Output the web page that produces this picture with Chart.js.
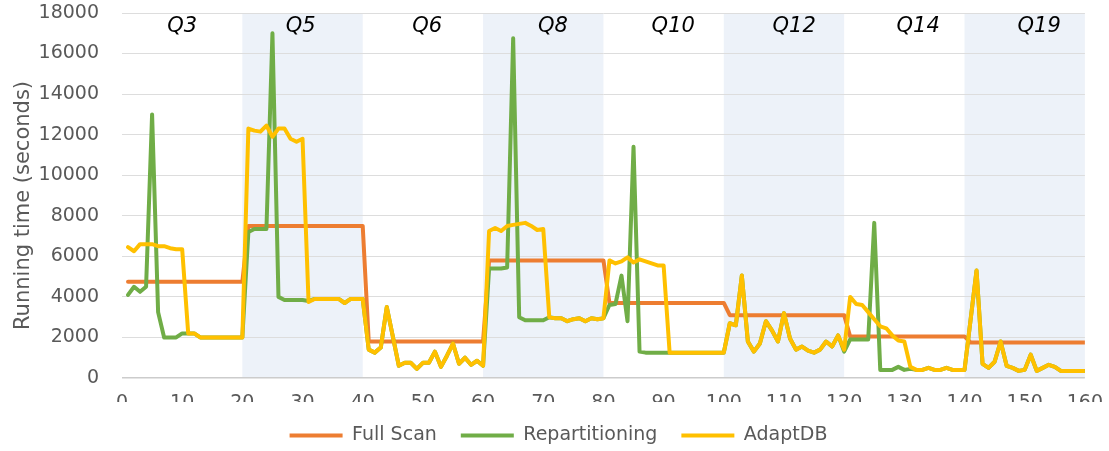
<!DOCTYPE html>
<html>
<head>
<meta charset="utf-8">
<title>Running time per query</title>
<script src="https://cdn.jsdelivr.net/npm/chart.js@4/dist/chart.umd.min.js"></script>
<style>
  html, body { margin: 0; padding: 0; background: #ffffff; }
  #wrap { width: 1109px; height: 451px; position: relative; }
</style>
</head>
<body>
<div id="wrap"><canvas id="chart"></canvas></div>
<script>
// Query groups: 20 consecutive runs each
const queries = ['Q3', 'Q5', 'Q6', 'Q8', 'Q10', 'Q12', 'Q14', 'Q19'];
const runsPerQuery = 20;
const runs = Array.from({ length: queries.length * runsPerQuery }, (_, i) => i + 1);

// Running time (seconds) per run
const fullScan = [
  4750, 4750, 4750, 4750, 4750, 4750, 4750, 4750, 4750, 4750, 4750, 4750, 4750, 4750, 4750, 4750, 4750, 4750, 4750, 4750,
  7500, 7500, 7500, 7500, 7500, 7500, 7500, 7500, 7500, 7500, 7500, 7500, 7500, 7500, 7500, 7500, 7500, 7500, 7500, 7500,
  1800, 1800, 1800, 1800, 1800, 1800, 1800, 1800, 1800, 1800, 1800, 1800, 1800, 1800, 1800, 1800, 1800, 1800, 1800, 1800,
  5800, 5800, 5800, 5800, 5800, 5800, 5800, 5800, 5800, 5800, 5800, 5800, 5800, 5800, 5800, 5800, 5800, 5800, 5800, 5800,
  3700, 3700, 3700, 3700, 3700, 3700, 3700, 3700, 3700, 3700, 3700, 3700, 3700, 3700, 3700, 3700, 3700, 3700, 3700, 3700,
  3100, 3100, 3100, 3100, 3100, 3100, 3100, 3100, 3100, 3100, 3100, 3100, 3100, 3100, 3100, 3100, 3100, 3100, 3100, 3100,
  2050, 2050, 2050, 2050, 2050, 2050, 2050, 2050, 2050, 2050, 2050, 2050, 2050, 2050, 2050, 2050, 2050, 2050, 2050, 2050,
  1750, 1750, 1750, 1750, 1750, 1750, 1750, 1750, 1750, 1750, 1750, 1750, 1750, 1750, 1750, 1750, 1750, 1750, 1750, 1750
];

const repartitioning = [
  4100, 4500, 4250, 4500, 13000, 3250, 2000, 2000, 2000, 2200, 2200, 2200, 2000, 2000, 2000, 2000, 2000, 2000, 2000, 2000,
  7200, 7350, 7350, 7350, 17000, 4000, 3850, 3850, 3850, 3850, 3800, 3900, 3900, 3900, 3900, 3900, 3700, 3900, 3900, 3900,
  1400, 1250, 1500, 3500, 2050, 600, 750, 750, 450, 750, 750, 1300, 550, 1100, 1700, 700, 1000, 650, 850, 600,
  5400, 5400, 5400, 5450, 16750, 3000, 2850, 2850, 2850, 2850, 3000, 2950, 2950, 2800, 2900, 2950, 2800, 2950, 2900, 2950,
  3600, 3650, 5050, 2800, 11400, 1300, 1250, 1250, 1250, 1250, 1250, 1250, 1250, 1250, 1250, 1250, 1250, 1250, 1250, 1250,
  2700, 2600, 5050, 1800, 1300, 1700, 2800, 2350, 1800, 3200, 1950, 1400, 1550, 1350, 1250, 1400, 1800, 1550, 2100, 1300,
  1900, 1900, 1900, 1900, 7650, 400, 400, 400, 550, 400, 450, 400, 400, 500, 400, 400, 500, 400, 400, 400,
  2850, 5300, 700, 500, 800, 1800, 600, 500, 350, 400, 1150, 350, 500, 650, 550, 350, 350, 350, 350, 350
];

const adaptDB = [
  6450, 6250, 6600, 6600, 6600, 6500, 6500, 6400, 6350, 6350, 2200, 2200, 2000, 2000, 2000, 2000, 2000, 2000, 2000, 2000,
  12300, 12200, 12150, 12450, 11900, 12300, 12300, 11800, 11650, 11800, 3750, 3900, 3900, 3900, 3900, 3900, 3700, 3900, 3900, 3900,
  1400, 1250, 1500, 3500, 2050, 600, 750, 750, 450, 750, 750, 1300, 550, 1100, 1700, 700, 1000, 650, 850, 600,
  7250, 7400, 7250, 7500, 7550, 7600, 7650, 7500, 7300, 7350, 3000, 2950, 2950, 2800, 2900, 2950, 2800, 2950, 2900, 2950,
  5800, 5650, 5750, 5950, 5700, 5850, 5750, 5650, 5550, 5550, 1250, 1250, 1250, 1250, 1250, 1250, 1250, 1250, 1250, 1250,
  2700, 2600, 5050, 1800, 1300, 1700, 2800, 2350, 1800, 3200, 1950, 1400, 1550, 1350, 1250, 1400, 1800, 1550, 2100, 1400,
  4000, 3650, 3600, 3250, 2900, 2550, 2450, 2100, 1850, 1800, 550, 400, 400, 500, 400, 400, 500, 400, 400, 400,
  2850, 5300, 700, 500, 800, 1800, 600, 500, 350, 400, 1150, 350, 500, 650, 550, 350, 350, 350, 350, 350
];

const yTicks = [0, 2000, 4000, 6000, 8000, 10000, 12000, 14000, 16000, 18000];
const xTicks = [0, 10, 20, 30, 40, 50, 60, 70, 80, 90, 100, 110, 120, 130, 140, 150, 160];
const yTitle = 'Running time (seconds)';

const FONT = 'DejaVu Sans';
const TEXT = '#595959';

const toPoints = (values) => values.map((v, i) => ({ x: runs[i], y: v }));

// Alternating shaded query bands, the axis title, and italic query names
const queryBands = {
  id: 'queryBands',
  beforeDraw(chart, args, opts) {
    const { ctx, chartArea, scales: { x } } = chart;
    ctx.save();
    ctx.fillStyle = opts.shade;
    queries.forEach((q, i) => {
      if (i % 2 === 1) {
        const x0 = x.getPixelForValue(i * runsPerQuery);
        const x1 = x.getPixelForValue((i + 1) * runsPerQuery);
        ctx.fillRect(x0, chartArea.top, x1 - x0, chartArea.bottom - chartArea.top);
      }
    });
    // rotated y-axis title
    ctx.translate(23.5, (chartArea.top + chartArea.bottom) / 2 + 10);
    ctx.rotate(-Math.PI / 2);
    ctx.font = '21px "' + FONT + '"';
    ctx.fillStyle = TEXT;
    ctx.textAlign = 'center';
    ctx.textBaseline = 'middle';
    ctx.fillText(yTitle, 0, 0);
    ctx.restore();
  },
  afterDatasetsDraw(chart, args, opts) {
    const { ctx, chartArea, scales: { x } } = chart;
    ctx.save();
    ctx.font = 'italic 21px "' + FONT + '"';
    ctx.fillStyle = '#000000';
    ctx.textAlign = 'center';
    ctx.textBaseline = 'middle';
    queries.forEach((q, i) => {
      ctx.fillText(q, x.getPixelForValue(opts.labelAt[i]), chartArea.top + 14);
    });
    ctx.restore();
  }
};

const lineStyle = {
  borderWidth: 4,
  pointRadius: 0,
  pointHoverRadius: 0,
  tension: 0,
  fill: false,
  borderJoinStyle: 'round',
  borderCapStyle: 'round'
};

new Chart(document.getElementById('chart'), {
  type: 'line',
  data: {
    datasets: [
      { label: 'Full Scan', data: toPoints(fullScan), borderColor: '#ED7D31', backgroundColor: '#ED7D31', order: 3, ...lineStyle },
      { label: 'Repartitioning', data: toPoints(repartitioning), borderColor: '#70AD47', backgroundColor: '#70AD47', order: 2, ...lineStyle },
      { label: 'AdaptDB', data: toPoints(adaptDB), borderColor: '#FFC000', backgroundColor: '#FFC000', order: 1, ...lineStyle }
    ]
  },
  options: {
    responsive: true,
    maintainAspectRatio: false,
    devicePixelRatio: 1,
    animation: false,
    events: [],
    layout: { padding: { top: 13, right: 22, bottom: 4, left: 30 } },
    scales: {
      x: {
        type: 'linear',
        min: 0,
        max: 160,
        afterBuildTicks(scale) { scale.ticks = xTicks.map(v => ({ value: v })); },
        ticks: { color: TEXT, font: { family: FONT, size: 19 }, padding: 6, maxRotation: 0 },
        grid: { display: false },
        border: { display: false },
        afterFit(scale) { scale.height = 24; }
      },
      y: {
        min: 0,
        max: 18000,
        afterBuildTicks(scale) { scale.ticks = yTicks.map(v => ({ value: v })); },
        ticks: { color: TEXT, font: { family: FONT, size: 19 }, padding: 23, callback: (v) => String(v) },
        grid: {
          drawTicks: false,
          color: (c) => (c.tick && c.tick.value === 0 ? '#cccccc' : '#dddddd'),
          lineWidth: (c) => (c.tick && c.tick.value === 0 ? 1.5 : 1)
        },
        border: { display: false },
        afterFit(scale) {
          scale.width = 92;
          scale.paddingTop = 0;
          scale.paddingBottom = 0;
        }
      }
    },
    plugins: {
      legend: {
        position: 'bottom',
        maxHeight: 45,
        labels: {
          usePointStyle: true,
          pointStyle: 'line',
          pointStyleWidth: 53,
          padding: 24,
          color: TEXT,
          font: { family: FONT, size: 19 },
          sort: (a, b) => a.datasetIndex - b.datasetIndex
        }
      },
      tooltip: { enabled: false },
      queryBands: {
        shade: '#EDF2F9',
        labelAt: [10, 29.7, 50.7, 71.6, 91.6, 111.7, 132.3, 152.4]
      }
    }
  },
  plugins: [queryBands]
});
</script>
</body>
</html>
